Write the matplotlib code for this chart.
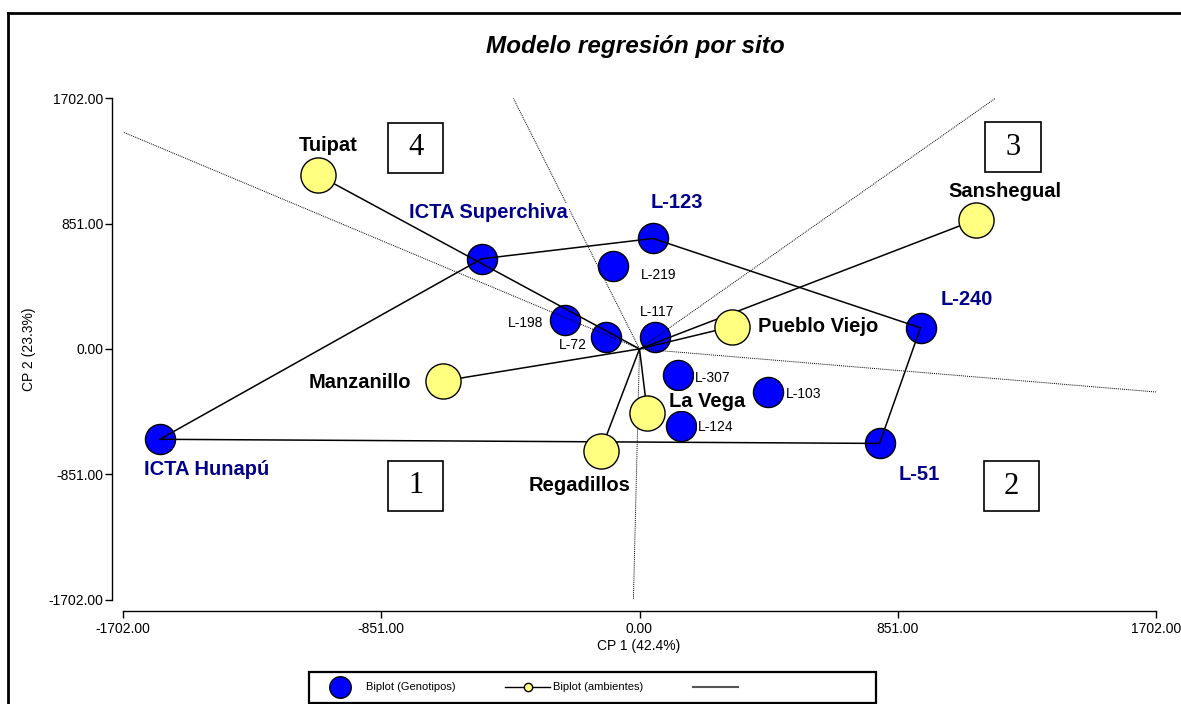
import matplotlib.pyplot as plt
import numpy as np
from matplotlib.lines import Line2D
from matplotlib.patches import Rectangle

plt.rcParams['font.family'] = ['Liberation Sans', 'DejaVu Sans']

# genotipos (CP1, CP2)
gen_names = ['ICTA Superchiva', 'L-123', 'L-219', 'L-198', 'L-72', 'L-117',
             'L-240', 'L-307', 'L-103', 'L-124', 'L-51', 'ICTA Hunapú']
gen_x = [-520, 45, -86, -247, -112, 50, 926, 127, 423, 136, 791, -1581]
gen_y = [612, 750, 565, 197, 82, 84, 143, -175, -290, -524, -642, -614]

# ambientes (CP1, CP2)
env_names = ['Tuipat', 'Sanshegual', 'Pueblo Viejo', 'Manzanillo', 'La Vega', 'Regadillos']
env_x = [-1058, 1109, 306, -648, 26, -128]
env_y = [1179, 878, 152, -218, -437, -692]

# poligono (vertices de genotipos)
hull = ['ICTA Superchiva', 'L-123', 'L-240', 'L-51', 'ICTA Hunapú']

lim = 1702
ticks = [-1702, -851, 0, 851, 1702]

W, H = 1181, 704
fig = plt.figure(figsize=(W / 100, H / 100), dpi=100)
ax = fig.add_axes([123 / W, 1 - 599.5 / H, 1033 / W, (599.5 - 98.3) / H])
ax.set_xlim(-lim, lim)
ax.set_ylim(-lim, lim)

# puntos de genotipos
ax.scatter(gen_x, gen_y, s=470, c='#0000FF', edgecolors='black', linewidths=1, zorder=2)

# poligono
hx = [gen_x[gen_names.index(n)] for n in hull]
hy = [gen_y[gen_names.index(n)] for n in hull]
ax.plot(hx + [hx[0]], hy + [hy[0]], color='black', lw=1.1, zorder=3)

# rectas perpendiculares a los lados del poligono
for i in range(len(hull)):
    dx = hx[(i + 1) % len(hull)] - hx[i]
    dy = hy[(i + 1) % len(hull)] - hy[i]
    nx, ny = -dy, dx
    t = min(lim / abs(nx) if nx else np.inf, lim / abs(ny) if ny else np.inf)
    ax.plot([0, nx * t], [0, ny * t], color='black', lw=0.7,
            linestyle=(0, (1, 1)), zorder=3)

# vectores de ambientes
for x, y in zip(env_x, env_y):
    ax.plot([0, x], [0, y], color='black', lw=1.1, zorder=3)
ax.scatter(env_x, env_y, s=640, c='#FFFF80', edgecolors='black', linewidths=1, zorder=4)

# etiquetas
big = ['ICTA Superchiva', 'L-123', 'L-240', 'L-51', 'ICTA Hunapú']
gen_off = {
    'ICTA Superchiva': (7, -46, 'center'), 'L-123': (24, -36, 'center'),
    'L-219': (27, 9, 'left'), 'L-198': (-21, 3, 'right'), 'L-72': (-19, 8, 'right'),
    'L-117': (2, -25, 'center'), 'L-240': (46, -28, 'center'),
    'L-307': (17, 3, 'left'), 'L-103': (18, 2, 'left'), 'L-124': (17, 1, 'left'),
    'L-51': (40, 31, 'center'), 'ICTA Hunapú': (47, 30, 'center'),
}
for n, x, y in zip(gen_names, gen_x, gen_y):
    ox, oy, ha = gen_off[n]
    if n in big:
        kw = dict(fontsize=14.5, fontweight='bold', color='#00008B')
    else:
        kw = dict(fontsize=10, color='black')
    ax.annotate(n, (x, y), xytext=(ox * 0.72, -oy * 0.72), textcoords='offset points',
                ha=ha, va='center', zorder=6,
                bbox=dict(facecolor='white', edgecolor='none', pad=0.5), **kw)

env_off = {
    'Tuipat': (10, -30, 'center'), 'Sanshegual': (29, -28, 'center'),
    'Pueblo Viejo': (26, 0, 'left'), 'Manzanillo': (-32, 2, 'right'),
    'La Vega': (22, -12, 'left'), 'Regadillos': (-21, 35, 'center'),
}
for n, x, y in zip(env_names, env_x, env_y):
    ox, oy, ha = env_off[n]
    ax.annotate(n, (x, y), xytext=(ox * 0.72, -oy * 0.72), textcoords='offset points',
                ha=ha, va='center', fontsize=14.5, fontweight='bold', color='black',
                zorder=6, bbox=dict(facecolor='white', edgecolor='none', pad=0.5))

# cuadrantes
quad = {'4': (-738, 1365), '3': (1232, 1371), '1': (-738, -930), '2': (1226, -933)}
bw, bh = 184, 340
for q, (cx, cy) in quad.items():
    ax.add_patch(Rectangle((cx - bw / 2, cy - bh / 2), bw, bh, facecolor='white',
                           edgecolor='black', lw=1.2, zorder=5))
    ax.text(cx, cy, q, ha='center', va='center', fontsize=22,
            family='Liberation Serif', zorder=6)

# ejes
for s in ['top', 'right']:
    ax.spines[s].set_visible(False)
for s in ['left', 'bottom']:
    ax.spines[s].set_position(('outward', 8))
    ax.spines[s].set_linewidth(1)
ax.set_xticks(ticks)
ax.set_yticks(ticks)
ax.set_xticklabels(['%.2f' % t for t in ticks])
ax.set_yticklabels(['%.2f' % t for t in ticks])
ax.tick_params(axis='x', direction='out', length=5, width=1, pad=3, labelsize=10)
ax.tick_params(axis='y', direction='out', length=5, width=1, pad=1, labelsize=10)

fig.text(639 / W, 1 - 646 / H, 'CP 1 (42.4%)', ha='center', va='center', fontsize=10)
fig.text(29 / W, 1 - 349 / H, 'CP 2 (23.3%)', ha='center', va='center', fontsize=10,
         rotation=90)
fig.text(635 / W, 1 - 46 / H, 'Modelo regresión por sito', ha='center', va='center',
         fontsize=17.5, fontweight='bold', fontstyle='italic')

# marco
fig.add_artist(Line2D([8 / W, 1], [1 - 13 / H, 1 - 13 / H], color='black', lw=2))
fig.add_artist(Line2D([8 / W, 8 / W], [0, 1 - 13 / H], color='black', lw=2))

# leyenda
fig.add_artist(Rectangle((309 / W, 1 - 703 / H), 567 / W, 31 / H, transform=fig.transFigure,
                         facecolor='white', edgecolor='black', lw=1.6))
handles = [
    Line2D([], [], marker='o', color='none', markerfacecolor='#0000FF',
           markeredgecolor='black', markersize=15.5),
    Line2D([], [], color='black', lw=1, marker='o', markerfacecolor='#FFFF80',
           markeredgecolor='black', markersize=6),
    Line2D([], [], color='#555555', lw=1.5),
]
fig.legend(handles, ['Biplot (Genotipos)', 'Biplot (ambientes)', ''], ncol=3,
           frameon=False, loc='center left', bbox_to_anchor=(318 / W, 1 - 687.5 / H),
           fontsize=8, handlelength=4.0, handletextpad=0.3, columnspacing=4.5,
           borderpad=0, borderaxespad=0)

fig.savefig('out.png', dpi=100)
